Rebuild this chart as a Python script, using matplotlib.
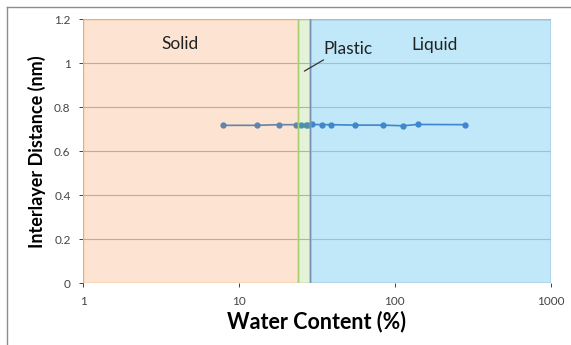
import matplotlib.pyplot as plt
from matplotlib.lines import Line2D
from matplotlib.ticker import FuncFormatter

plt.rcParams['font.family'] = ['Lato', 'DejaVu Sans']

# water content (%) and interlayer distance (nm)
water = [7.9, 13.0, 18.0, 23.1, 25.0, 27.1, 27.6, 29.4, 34.1, 39.0, 55.8, 83.7, 112, 140, 281]
dist = [0.718, 0.718, 0.721, 0.721, 0.720, 0.719, 0.720, 0.722, 0.721, 0.721,
        0.719, 0.719, 0.716, 0.722, 0.721]

# consistency limits
plastic_limit = 23.8
liquid_limit = 28.4

fig = plt.figure(figsize=(5.71, 3.45), dpi=100)
ax = fig.add_axes([0.1454, 0.1797, 0.8191, 0.7638])

ax.set_xscale('log')
ax.set_xlim(1, 1000)
ax.set_ylim(0, 1.2)

ax.axvspan(liquid_limit, 1000, facecolor='#c0e8f8', edgecolor='#7890b4', lw=1, zorder=1)
ax.plot(water, dist, '-o', color='#3f86cc', ms=3.5, lw=1.2, zorder=3)
ax.axvspan(1, plastic_limit, facecolor=(245/255, 120/255, 30/255, 0.2),
           edgecolor='#f5aa66', lw=1, zorder=4)
ax.axvspan(plastic_limit, liquid_limit, facecolor=(120/255, 190/255, 60/255, 0.2),
           edgecolor='#a8d070', lw=1, zorder=4)
ax.axvline(liquid_limit, color='#7890b4', lw=1, zorder=5)

ax.set_yticks([0, 0.2, 0.4, 0.6, 0.8, 1.0, 1.2])
ax.yaxis.set_major_formatter(FuncFormatter(lambda v, p: f"{v:g}"))
ax.set_xticks([1, 10, 100, 1000])
ax.xaxis.set_major_formatter(FuncFormatter(lambda v, p: f"{v:g}"))
ax.minorticks_off()
ax.grid(axis='y', color='#b8b8b8', lw=0.8, zorder=2)
ax.set_axisbelow(False)

for s in ax.spines.values():
    s.set_visible(False)
ax.tick_params(axis='both', labelsize=8.5, colors='#444444', length=3, width=0.7)
ax.tick_params(axis='x', pad=6)
ax.tick_params(axis='y', pad=6)

ax.set_xlabel("Water Content (%)", fontsize=15.5, fontweight='bold', labelpad=3)
ax.set_ylabel("Interlayer Distance (nm)", fontsize=13, fontweight='bold', labelpad=6)

ax.text(3.2, 1.088, "Solid", fontsize=12.5, va='center', ha='left', color='#222222', zorder=6)
ax.text(128, 1.084, "Liquid", fontsize=12.5, va='center', ha='left', color='#222222', zorder=6)
ax.annotate("Plastic", xy=(26.3, 0.965), xytext=(35.0, 1.065), fontsize=12.5,
            va='center', ha='left', color='#222222', zorder=6,
            arrowprops=dict(arrowstyle='-', color='#333333', lw=0.9, shrinkA=0, shrinkB=0,
                            relpos=(0.12, 0.05)))

# chart border (left and top)
fig.add_artist(Line2D([7 / 571, 7 / 571], [0, 1 - 7 / 345], color='#8c8c8c', lw=1))
fig.add_artist(Line2D([7 / 571, 1], [1 - 7 / 345, 1 - 7 / 345], color='#8c8c8c', lw=1))

fig.savefig('out.png', dpi=100)
